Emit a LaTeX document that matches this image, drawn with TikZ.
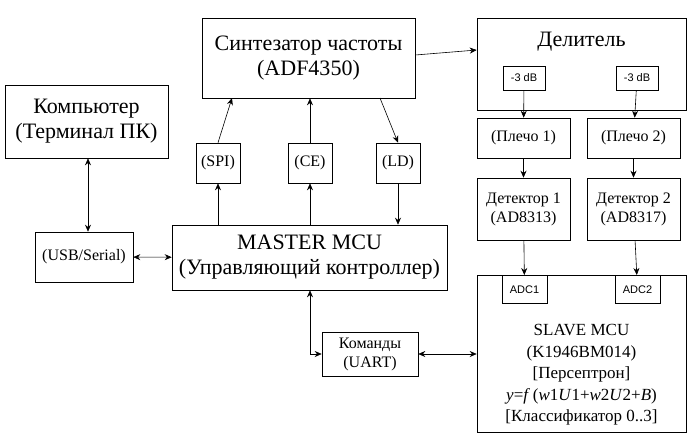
\documentclass[tikz,border=0pt]{standalone}
\usepackage{fontspec}
\setmainfont{Liberation Serif}
\newfontfamily\smallsans{Liberation Sans}
\usetikzlibrary{arrows.meta}
\begin{document}
\begin{tikzpicture}[x=1pt,y=-1pt,
    blk/.style={draw,semithick,rectangle,align=center,inner sep=0pt},
    big/.style={font=\fontsize{22}{25}\selectfont},
    mid/.style={font=\fontsize{16}{19}\selectfont},
    tag/.style={draw,semithick,rectangle,font=\smallsans\fontsize{11}{12}\selectfont,inner sep=0pt},
    arr/.style={-{Stealth[length=7pt,width=6pt]},semithick},
    darr/.style={{Stealth[length=7pt,width=6pt]}-{Stealth[length=7pt,width=6pt]},semithick}]
    \useasboundingbox (0,0) rectangle (692,445);
    % left and centre
    \node[blk,big,minimum width=213,minimum height=80] (synth) at (308.5,58) {Синтезатор частоты\\(ADF4350)};
    \node[blk,big,minimum width=163,minimum height=73] (pc) at (86.5,121.5) {Компьютер\\(Терминал ПК)};
    \node[blk,mid,minimum width=98,minimum height=50] (usb) at (84,257) {(USB/Serial)};
    \node[blk,big,minimum width=275,minimum height=65] (master) at (309.5,257.5) {MASTER MCU\\(Управляющий контроллер)};
    \node[blk,mid,minimum width=44,minimum height=40] (spi) at (218,163) {(SPI)};
    \node[blk,mid,minimum width=44,minimum height=40] (ce) at (310,163) {(CE)};
    \node[blk,mid,minimum width=44,minimum height=40] (ld) at (398,163) {(LD)};
    \node[blk,mid,minimum width=96,minimum height=44] (cmd) at (370,354) {Команды\\(UART)};
    % right column
    \node[blk,minimum width=209,minimum height=92] (div) at (581.5,64) {};
    \node[big] (divt) at (581.5,42) {Делитель};
    \node[tag,minimum width=42,minimum height=24] (att1) at (524,78) {-3 dB};
    \node[tag,minimum width=42,minimum height=24] (att2) at (637,78) {-3 dB};
    \node[blk,mid,minimum width=93,minimum height=40] (arm1) at (523.5,138) {(Плечо 1)};
    \node[blk,mid,minimum width=93,minimum height=40] (arm2) at (633.5,138) {(Плечо 2)};
    \node[blk,mid,minimum width=93,minimum height=62] (det1) at (523.5,209) {Детектор 1\\(AD8313)};
    \node[blk,mid,minimum width=93,minimum height=62] (det2) at (633.5,209) {Детектор 2\\(AD8317)};
    \node[blk,minimum width=209,minimum height=157] (slave) at (581.5,353.5) {};
    \node[align=center,font=\fontsize{17}{21.5}\selectfont] (slavet) at (581.5,375) {SLAVE MCU\\(K1946BM014)\\{[Персептрон]}\\\textit{y}=\textit{f}\,(\textit{w}1\textit{U}1+\textit{w}2\textit{U}2+\textit{B})\\{[Классификатор 0..3]}};
    \node[tag,anchor=north,minimum width=45,minimum height=28] (adc1) at (524.5,275) {ADC1};
    \node[tag,anchor=north,minimum width=45,minimum height=28] (adc2) at (637.5,275) {ADC2};
    % connections
    \draw[arr] (synth.east |- 0,55) -- (div.west |- 0,50);
    \draw[arr] (att1) -- (arm1);
    \draw[arr] (att2) -- (arm2);
    \draw[arr] (arm1) -- (det1);
    \draw[arr] (arm2) -- (det2);
    \draw[arr] (det1) -- (adc1);
    \draw[arr] (det2) -- (adc2);
    \draw[darr] (pc.south -| 88,0) -- (usb.north -| 88,0);
    \draw[darr] (usb) -- (master);
    \draw[arr] (spi.north) -- (232,98);
    \draw[arr] (ce) -- (ce |- synth.south);
    \draw[arr] (380,98) -- (ld.north);
    \draw[arr] (master.north -| spi) -- (spi);
    \draw[arr] (master.north -| ce) -- (ce);
    \draw[arr] (ld) -- (master.north -| ld);
    \draw[darr] (master.south -| 310,0) |- (cmd.west);
    \draw[darr] (cmd) -- (cmd -| slave.west);
\end{tikzpicture}
\end{document}
